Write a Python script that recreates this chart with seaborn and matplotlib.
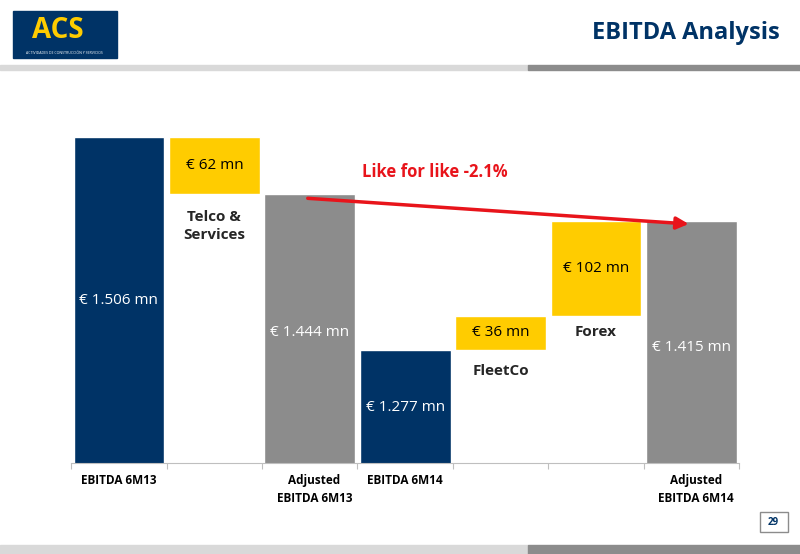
import matplotlib.pyplot as plt
import matplotlib.patches as mpatches
import seaborn as sns

sns.set_style("white")
plt.rcParams['font.family'] = ['Open Sans', 'DejaVu Sans']

slots = ['s0', 's1', 's2', 's3', 's4', 's5', 's6']
tops = [1506, 1506, 1444, 1277, 1313, 1415, 1415]
bottoms = [0, 1444, 0, 0, 1277, 1313, 0]
colores = ['#003366', '#ffcc00', '#8c8c8c', '#003366', '#ffcc00', '#ffcc00', '#8c8c8c']
etiquetas = ['€ 1.506 mn', '€ 62 mn', '€ 1.444 mn', '€ 1.277 mn', '€ 36 mn', '€ 102 mn', '€ 1.415 mn']
nombres = ['Telco &\nServices', 'FleetCo', 'Forex']
xlabels = ['EBITDA 6M13', '', 'Adjusted\nEBITDA 6M13', 'EBITDA 6M14', '', '', 'Adjusted\nEBITDA 6M14']

fig = plt.figure(figsize=(8, 5.54), dpi=100)
ax = fig.add_axes([0.089, 0.164, 0.835, 0.59])
ymin = 1155

sns.barplot(x=slots, y=tops, hue=slots, palette=colores, legend=False, width=0.95,
            saturation=1, ax=ax)
sns.barplot(x=slots, y=bottoms, color='white', width=0.97, saturation=1, ax=ax)
ax.set_ylim(ymin, 1506.5)
ax.set_xlim(-0.5, 6.5)
ax.set_yticks([])
sns.despine(ax=ax, left=True)
ax.spines['bottom'].set_color('#bfbfbf')
ax.set_xticks([i - 0.5 for i in range(8)], [''] * 8)
ax.tick_params(axis='x', length=4, color='#bfbfbf', direction='out', bottom=True)
for i, t in enumerate(xlabels):
    ax.text(i if i not in (2, 6) else i + 0.05, ymin - 12, t, ha='center', va='top',
            fontsize=8.5, fontweight='bold', color='black', linespacing=1.5)

# value labels
ax.text(0, 1330, etiquetas[0], ha='center', va='center', color='white', fontsize=11)
ax.text(1, 1475, etiquetas[1], ha='center', va='center', color='black', fontsize=11)
ax.text(2, 1295, etiquetas[2], ha='center', va='center', color='white', fontsize=11)
ax.text(3, 1215, etiquetas[3], ha='center', va='center', color='white', fontsize=11)
ax.text(4, 1295, etiquetas[4], ha='center', va='center', color='black', fontsize=11)
ax.text(5, 1364, etiquetas[5], ha='center', va='center', color='black', fontsize=11)
ax.text(6, 1279, etiquetas[6], ha='center', va='center', color='white', fontsize=11)
ax.text(1, 1410, nombres[0], ha='center', va='center', fontsize=11, fontweight='bold', linespacing=1.3)
ax.text(4, 1254, nombres[1], ha='center', va='center', fontsize=11, fontweight='bold')
ax.text(5, 1296, nombres[2], ha='center', va='center', fontsize=11, fontweight='bold')

ax.annotate('', xy=(6.0, 1412), xytext=(1.95, 1440),
            arrowprops=dict(arrowstyle='-|>', color='#e8141b', lw=2.5, mutation_scale=18))
ax.text(2.55, 1463, 'Like for like -2.1%', color='#e8141b', fontsize=12, fontweight='bold')

# header
fig.patches.append(mpatches.Rectangle((0.016, 0.895), 0.13, 0.085, transform=fig.transFigure,
                                      color='#003366'))
fig.text(0.072, 0.945, 'ACS', color='#ffcc00', fontsize=20, fontweight='bold', ha='center', va='center')
fig.text(0.08, 0.905, 'ACTIVIDADES DE CONSTRUCCIÓN Y SERVICIOS', color='white', fontsize=2.5,
         ha='center', va='center')
fig.text(0.975, 0.94, 'EBITDA Analysis', color='#003366', fontsize=17, fontweight='bold',
         ha='right', va='center')
fig.patches.append(mpatches.Rectangle((0.0, 0.874), 0.66, 0.008, transform=fig.transFigure, color='#d9d9d9'))
fig.patches.append(mpatches.Rectangle((0.66, 0.874), 0.34, 0.008, transform=fig.transFigure, color='#8c8c8c'))
# footer
fig.patches.append(mpatches.Rectangle((0.0, 0.0), 0.66, 0.016, transform=fig.transFigure, color='#d9d9d9'))
fig.patches.append(mpatches.Rectangle((0.66, 0.0), 0.34, 0.016, transform=fig.transFigure, color='#8c8c8c'))
fig.patches.append(mpatches.Rectangle((0.95, 0.04), 0.035, 0.035, transform=fig.transFigure,
                                      fill=False, edgecolor='#8c8c8c', lw=1))
fig.text(0.967, 0.057, '29', fontsize=7, fontweight='bold', ha='center', va='center', color='#003366')

fig.savefig('out.png', dpi=100)
